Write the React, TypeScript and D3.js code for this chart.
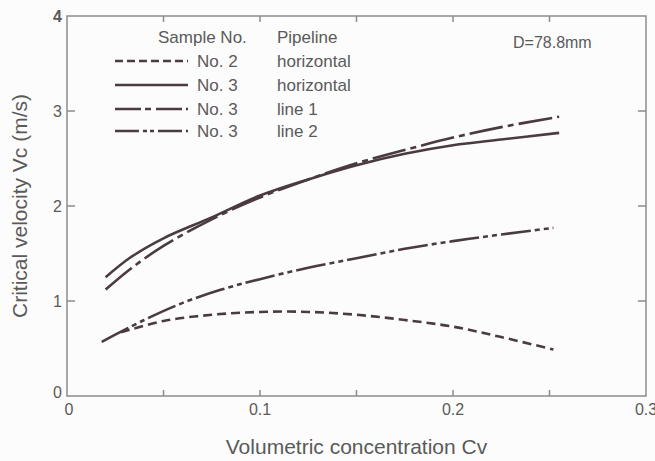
import { useEffect, useRef } from "react";
import * as d3 from "d3";

// concentration values (x) for each curve
const cvNo2 = [0.028, 0.05, 0.075, 0.1, 0.125, 0.15, 0.175, 0.2, 0.225, 0.252];
const vcNo2Horizontal = [0.67, 0.79, 0.855, 0.885, 0.885, 0.855, 0.8, 0.73, 0.62, 0.49];

const cvNo3 = [0.02, 0.033, 0.05, 0.075, 0.1, 0.125, 0.15, 0.175, 0.2, 0.225, 0.255];
const vcNo3Horizontal = [1.25, 1.46, 1.66, 1.88, 2.11, 2.28, 2.43, 2.55, 2.64, 2.7, 2.77];
const vcNo3Line1 = [1.12, 1.34, 1.58, 1.86, 2.09, 2.28, 2.45, 2.59, 2.72, 2.83, 2.94];

const cvLine2 = [0.018, 0.04, 0.06, 0.08, 0.1, 0.125, 0.15, 0.175, 0.2, 0.225, 0.252];
const vcNo3Line2 = [0.57, 0.8, 0.98, 1.12, 1.23, 1.35, 1.45, 1.55, 1.63, 1.7, 1.77];

const xTicks = [0, 0.05, 0.1, 0.15, 0.2, 0.25, 0.3];
const xTickLabels = ["0", "0.1", "0.2", "0.3"];
const yTicks = [1, 2, 3];
const yTickLabels = ["0", "1", "2", "3", "4"];

const legendSamples = ["No. 2", "No. 3", "No. 3", "No. 3"];
const legendPipelines = ["horizontal", "horizontal", "line 1", "line 2"];

const INK = "#4a3b40";
const AXIS = "#8c8c8c";
const TEXT = "#5a5a5a";
const FONT = "'Liberation Sans', Arial, sans-serif";

export default function App() {
  const ref = useRef<SVGSVGElement>(null);

  useEffect(() => {
    const svg = d3.select(ref.current);
    svg.selectAll("*").remove();

    const left = 67, right = 646, top = 16, bottom = 396;
    const x = d3.scaleLinear().domain([0, 0.3]).range([left, right]);
    const y = d3.scaleLinear().domain([0, 4]).range([bottom, top]);

    svg.append("rect").attr("width", 655).attr("height", 461).attr("fill", "#fcfcfc");

    // frame
    svg
      .append("rect")
      .attr("x", left)
      .attr("y", top)
      .attr("width", right - left)
      .attr("height", bottom - top)
      .attr("fill", "none")
      .attr("stroke", AXIS)
      .attr("stroke-width", 1.5);

    // inward ticks
    const g = svg.append("g").attr("stroke", AXIS).attr("stroke-width", 1.5);
    xTicks.slice(1, -1).forEach((t) => {
      g.append("line").attr("x1", x(t)).attr("x2", x(t)).attr("y1", bottom).attr("y2", bottom - 6);
      g.append("line").attr("x1", x(t)).attr("x2", x(t)).attr("y1", top).attr("y2", top + 6);
    });
    yTicks.forEach((t) => {
      g.append("line").attr("x1", left).attr("x2", left + 8).attr("y1", y(t)).attr("y2", y(t));
      g.append("line").attr("x1", right).attr("x2", right - 8).attr("y1", y(t)).attr("y2", y(t));
    });

    const text = svg
      .append("g")
      .attr("font-family", FONT)
      .attr("fill", TEXT);

    // x tick labels
    xTickLabels.forEach((l) => {
      const v = +l;
      text
        .append("text")
        .attr("x", x(v) + (v === 0 ? 2 : 0))
        .attr("y", bottom + 19)
        .attr("text-anchor", "middle")
        .attr("font-size", 16)
        .text(l);
    });
    // y tick labels
    yTickLabels.forEach((l) => {
      const v = +l;
      text
        .append("text")
        .attr("x", left - 5)
        .attr("y", y(v) + (v === 0 ? 2 : 6))
        .attr("text-anchor", "end")
        .attr("font-size", 16)
        .attr("font-weight", v === 4 ? "bold" : "normal")
        .text(l);
    });

    text
      .append("text")
      .attr("x", (left + right) / 2)
      .attr("y", 454)
      .attr("text-anchor", "middle")
      .attr("font-size", 21)
      .text("Volumetric concentration Cv");
    text
      .append("text")
      .attr("transform", `translate(27,${(top + bottom) / 2}) rotate(-90)`)
      .attr("text-anchor", "middle")
      .attr("font-size", 21)
      .text("Critical velocity Vc (m/s)");
    text
      .append("text")
      .attr("x", 513)
      .attr("y", 48)
      .attr("font-size", 16)
      .text("D=78.8mm");

    const styles = [
      { dash: "9 5", width: 2.6 },
      { dash: null, width: 2.6 },
      { dash: "34 5 6 5", width: 2.6 },
      { dash: "30 4 5 4 5 4", width: 2.6 },
    ];

    const series: [number[], number[]][] = [
      [cvNo2, vcNo2Horizontal],
      [cvNo3, vcNo3Horizontal],
      [cvNo3, vcNo3Line1],
      [cvLine2, vcNo3Line2],
    ];

    const line = d3
      .line<[number, number]>()
      .x((d) => x(d[0]))
      .y((d) => y(d[1]))
      .curve(d3.curveCatmullRom.alpha(0.5));

    series.forEach(([xs, ys], i) => {
      svg
        .append("path")
        .attr("d", line(xs.map((v, j) => [v, ys[j]] as [number, number])))
        .attr("fill", "none")
        .attr("stroke", INK)
        .attr("stroke-width", styles[i].width)
        .attr("stroke-dasharray", styles[i].dash);
    });

    // legend
    const lg = svg.append("g").attr("font-family", FONT).attr("font-size", 17);
    lg.append("text").attr("x", 158).attr("y", 43).attr("fill", TEXT).text("Sample No.");
    lg.append("text").attr("x", 277).attr("y", 43).attr("fill", TEXT).text("Pipeline");
    const rowsY = [61, 85, 109, 131];
    rowsY.forEach((ry, i) => {
      lg.append("line")
        .attr("x1", 115)
        .attr("x2", 188)
        .attr("y1", ry)
        .attr("y2", ry)
        .attr("stroke", INK)
        .attr("stroke-width", 2.4)
        .attr("stroke-dasharray", i === 0 ? "8 4" : i === 2 ? "26 4 6 5" : i === 3 ? "24 4 4 3 4 4" : null);
      lg.append("text").attr("x", 197).attr("y", ry + 6).attr("fill", TEXT).text(legendSamples[i]);
      lg.append("text").attr("x", 277).attr("y", ry + 6).attr("fill", TEXT).text(legendPipelines[i]);
    });
  }, []);

  return (
    <svg
      ref={ref}
      width={655}
      height={461}
      style={{ position: "absolute", left: 0, top: 0 }}
    />
  );
}
